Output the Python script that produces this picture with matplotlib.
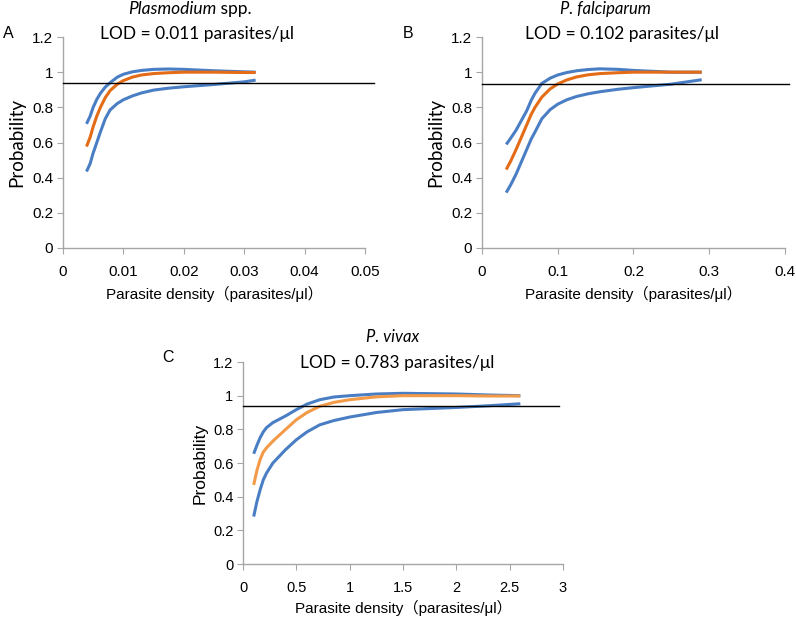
import matplotlib.pyplot as plt

# ------------------------------
# Panel A: Plasmodium spp.
# ------------------------------
A_X     = [0.0039, 0.0045, 0.0050, 0.0056, 0.0062, 0.0070, 0.0078, 0.0090, 0.0100, 0.0115, 0.0130, 0.0150, 0.0175, 0.0200, 0.0250, 0.0300, 0.0319]
A_UPPER = [0.706, 0.750, 0.800, 0.845, 0.880, 0.915, 0.940, 0.972, 0.988, 1.002, 1.010, 1.016, 1.018, 1.016, 1.008, 1.002, 1.000]
A_MID   = [0.577, 0.630, 0.690, 0.750, 0.800, 0.855, 0.895, 0.932, 0.952, 0.972, 0.984, 0.992, 0.997, 1.000, 1.000, 0.998, 0.998]
A_LOWER = [0.435, 0.480, 0.540, 0.600, 0.660, 0.735, 0.785, 0.822, 0.843, 0.865, 0.882, 0.898, 0.909, 0.917, 0.930, 0.945, 0.955]

# ------------------------------
# Panel B: P. falciparum
# ------------------------------
B_X     = [0.032, 0.038, 0.045, 0.052, 0.059, 0.065, 0.070, 0.079, 0.090, 0.100, 0.112, 0.125, 0.140, 0.156, 0.180, 0.200, 0.250, 0.290]
B_UPPER = [0.589, 0.625, 0.670, 0.725, 0.780, 0.840, 0.880, 0.936, 0.966, 0.984, 0.998, 1.008, 1.015, 1.019, 1.016, 1.010, 1.000, 1.000]
B_MID   = [0.446, 0.495, 0.560, 0.630, 0.700, 0.760, 0.800, 0.858, 0.905, 0.933, 0.956, 0.973, 0.985, 0.992, 0.997, 1.000, 1.000, 1.000]
B_LOWER = [0.315, 0.360, 0.420, 0.490, 0.560, 0.620, 0.660, 0.735, 0.787, 0.818, 0.843, 0.862, 0.877, 0.889, 0.903, 0.912, 0.932, 0.957]

# ------------------------------
# Panel C: P. vivax
# ------------------------------
C_X     = [0.10, 0.13, 0.16, 0.19, 0.22, 0.28, 0.34, 0.40, 0.50, 0.60, 0.72, 0.85, 1.00, 1.25, 1.50, 2.00, 2.30, 2.60]
C_UPPER = [0.655, 0.705, 0.750, 0.785, 0.810, 0.840, 0.860, 0.880, 0.917, 0.950, 0.976, 0.992, 1.000, 1.010, 1.014, 1.010, 1.004, 1.000]
C_MID   = [0.470, 0.555, 0.620, 0.665, 0.690, 0.730, 0.765, 0.800, 0.857, 0.900, 0.937, 0.960, 0.976, 0.993, 1.000, 1.000, 0.998, 0.998]
C_LOWER = [0.282, 0.370, 0.440, 0.500, 0.540, 0.600, 0.640, 0.680, 0.738, 0.785, 0.827, 0.852, 0.873, 0.900, 0.917, 0.930, 0.940, 0.952]

LOD_LEVEL = [0.939, 0.934, 0.937]
X_TICKS = [
    [0, 0.01, 0.02, 0.03, 0.04, 0.05],
    [0, 0.1, 0.2, 0.3, 0.4],
    [0, 0.5, 1, 1.5, 2, 2.5, 3],
]
X_TICKLABELS = [
    ["0", "0.01", "0.02", "0.03", "0.04", "0.05"],
    ["0", "0.1", "0.2", "0.3", "0.4"],
    ["0", "0.5", "1", "1.5", "2", "2.5", "3"],
]
Y_TICKS = [0, 0.2, 0.4, 0.6, 0.8, 1.0, 1.2]
Y_TICKLABELS = ["0", "0.2", "0.4", "0.6", "0.8", "1", "1.2"]

BLUE = "#4a7ec4"
ORANGE = ["#e46c17", "#e46c17", "#f39a48"]
GRAY = "#a6a6a6"
TICK_FONT = ["Liberation Sans", "Noto Sans CJK SC"]
TITLE_FONT = ["Lato", "DejaVu Sans"]
TICK_SIZE = [11, 11, 10.5]

fig = plt.figure(figsize=(7.96, 6.22), dpi=100)

ax_a = fig.add_axes([0.0791, 0.6013, 0.3794, 0.3392])
ax_b = fig.add_axes([0.6055, 0.6013, 0.3807, 0.3392])
ax_c = fig.add_axes([0.3053, 0.0932, 0.4020, 0.3248])

panels = [
    (ax_a, A_X, A_UPPER, A_MID, A_LOWER, 0.0515),
    (ax_b, B_X, B_UPPER, B_MID, B_LOWER, 0.405),
    (ax_c, C_X, C_UPPER, C_MID, C_LOWER, 2.96),
]

for i, (ax, xs, up, mid, lo, line_end) in enumerate(panels):
    ax.plot(xs, up, color=BLUE, linewidth=2.2, solid_capstyle="butt", solid_joinstyle="round")
    ax.plot(xs, lo, color=BLUE, linewidth=2.2, solid_capstyle="butt", solid_joinstyle="round")
    ax.plot(xs, mid, color=ORANGE[i], linewidth=2.2, solid_capstyle="butt", solid_joinstyle="round")
    ax.plot([0, line_end], [LOD_LEVEL[i], LOD_LEVEL[i]], color="black",
            linewidth=1.0, clip_on=False, zorder=5)

    ax.set_xlim(X_TICKS[i][0], X_TICKS[i][-1])
    ax.set_ylim(0, 1.2)
    ax.set_xticks(X_TICKS[i])
    ax.set_xticklabels(X_TICKLABELS[i], family=TICK_FONT, fontsize=TICK_SIZE[i])
    ax.set_yticks(Y_TICKS)
    ax.set_yticklabels(Y_TICKLABELS, family=TICK_FONT, fontsize=TICK_SIZE[i])

    for side in ["top", "right"]:
        ax.spines[side].set_visible(False)
    for side in ["left", "bottom"]:
        ax.spines[side].set_color(GRAY)
        ax.spines[side].set_linewidth(1.0)
    ax.tick_params(axis="x", direction="out", length=4, color=GRAY, pad=8)
    ax.tick_params(axis="y", direction="out", length=4, color=GRAY, pad=3)

# axis labels
ax_a.set_ylabel("Probability", family=TITLE_FONT, fontsize=13.5, labelpad=5)
ax_b.set_ylabel("Probability", family=TITLE_FONT, fontsize=13.5, labelpad=5)
ax_c.set_ylabel("Probability", family=TICK_FONT, fontsize=12.5, labelpad=4)
ax_a.set_xlabel("Parasite density（parasites/μl）", family=TICK_FONT, fontsize=11, labelpad=5)
ax_b.set_xlabel("Parasite density（parasites/μl）", family=TICK_FONT, fontsize=11, labelpad=5)
ax_c.set_xlabel("Parasite density（parasites/μl）", family=TICK_FONT, fontsize=11, labelpad=4)

# titles: "Plasmodium" italic followed by upright " spp."
fig.canvas.draw()
renderer = fig.canvas.get_renderer()
t_it = fig.text(128 / 796, 1 - 9 / 622, "Plasmodium", ha="left", va="center",
                fontsize=12.5, family=TITLE_FONT, style="italic", weight="normal")
bb = t_it.get_window_extent(renderer=renderer)
fig.text(bb.x1 / fig.bbox.width, 1 - 9 / 622, " spp.", ha="left", va="center",
         fontsize=12.5, family=TITLE_FONT, weight="normal")
fig.text(197 / 796, 1 - 34 / 622, "LOD = 0.011 parasites/μl", ha="center", va="center",
         fontsize=12.5, family=TITLE_FONT)

fig.text(605 / 796, 1 - 9 / 622, "P. falciparum", ha="center", va="center",
         fontsize=12, family=TITLE_FONT, style="italic", weight="normal")
fig.text(622 / 796, 1 - 34 / 622, "LOD = 0.102 parasites/μl", ha="center", va="center",
         fontsize=12.5, family=TITLE_FONT)

fig.text(393 / 796, 1 - 337 / 622, "P. vivax", ha="center", va="center",
         fontsize=12, family=TITLE_FONT, style="italic", weight="normal")
fig.text(397 / 796, 1 - 363 / 622, "LOD = 0.783 parasites/μl", ha="center", va="center",
         fontsize=12.5, family=TITLE_FONT)

# panel letters
fig.text(8 / 796, 1 - 34 / 622, "A", ha="center", va="center", fontsize=11.5, family=TICK_FONT)
fig.text(408 / 796, 1 - 33 / 622, "B", ha="center", va="center", fontsize=11.5, family=TICK_FONT)
fig.text(168 / 796, 1 - 357 / 622, "C", ha="center", va="center", fontsize=11.5, family=TICK_FONT)

fig.savefig("out.png", dpi=100)
